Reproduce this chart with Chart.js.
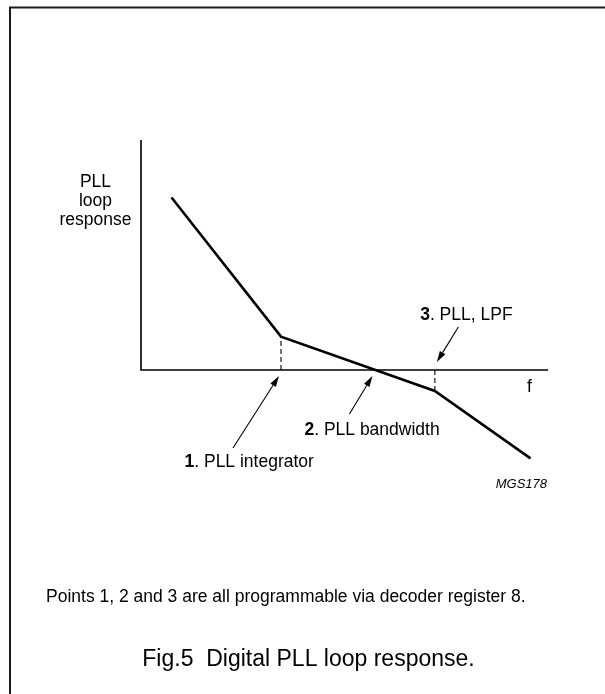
<!DOCTYPE html>
<html>
<head>
<meta charset="utf-8">
<script src="https://cdn.jsdelivr.net/npm/chart.js@4/dist/chart.umd.min.js"></script>
<style>
  html, body { margin: 0; padding: 0; background: #ffffff; }
  #wrap { position: relative; width: 605px; height: 694px; }
</style>
</head>
<body>
<div id="wrap"><canvas id="c" width="605" height="694"></canvas></div>
<script>
// ---- data (arbitrary units) ----
const frequency = [7.5, 34.4, 72.2, 95.7];      // breakpoints along f axis
const response  = [75.0, 14.5, -9.1, -38.4];    // PLL loop response at those points
const bandwidthCrossing = 57.6;                 // point 2: response crosses 0
const axisExtentX = 100;                        // f axis length
const axisExtentY = 100;                        // response axis height
const yLabelLines = ['PLL', 'loop', 'response'];
const pointLabels = [
  { num: '1', text: '. PLL integrator' },
  { num: '2', text: '. PLL bandwidth' },
  { num: '3', text: '. PLL, LPF' }
];
const xAxisLabel = 'f';
const figCode = 'MGS178';
const noteText = 'Points 1, 2 and 3 are all programmable via decoder register 8.';
const captionText = 'Fig.5  Digital PLL loop response.';

const FONT = '"Liberation Sans", Arial, Helvetica, sans-serif';

const points = frequency.map((f, i) => ({ x: f, y: response[i] }));

function arrow(ctx, x1, y1, x2, y2) {
  const ang = Math.atan2(y2 - y1, x2 - x1);
  const hl = 11, hw = 3.2;
  const bx = x2 - hl * Math.cos(ang), by = y2 - hl * Math.sin(ang);
  ctx.beginPath();
  ctx.moveTo(x1, y1);
  ctx.lineTo(bx, by);
  ctx.lineWidth = 1.1;
  ctx.strokeStyle = '#000';
  ctx.setLineDash([]);
  ctx.stroke();
  ctx.beginPath();
  ctx.moveTo(x2, y2);
  ctx.lineTo(bx + hw * Math.sin(ang), by - hw * Math.cos(ang));
  ctx.lineTo(bx - hw * Math.sin(ang), by + hw * Math.cos(ang));
  ctx.closePath();
  ctx.fillStyle = '#000';
  ctx.fill();
}

function boldNumLabel(ctx, x, y, num, text, size) {
  ctx.textAlign = 'left';
  ctx.textBaseline = 'alphabetic';
  ctx.font = 'bold ' + size + 'px ' + FONT;
  ctx.fillText(num, x, y);
  const w = ctx.measureText(num).width;
  ctx.font = size + 'px ' + FONT;
  ctx.fillText(text, x + w, y);
}

const decor = {
  id: 'decor',
  beforeDatasetsDraw(chart) {
    const ctx = chart.ctx;
    const xs = chart.scales.x, ys = chart.scales.y;
    ctx.save();
    // outer frame
    ctx.strokeStyle = '#1a1a1a';
    ctx.lineWidth = 2;
    ctx.beginPath();
    ctx.moveTo(10, 700);
    ctx.lineTo(10, 7.5);
    ctx.lineTo(610, 7.5);
    ctx.stroke();
    // axes
    const x0 = xs.getPixelForValue(0), y0 = ys.getPixelForValue(0);
    ctx.strokeStyle = '#000';
    ctx.lineWidth = 1.6;
    ctx.beginPath();
    ctx.moveTo(x0, ys.getPixelForValue(axisExtentY));
    ctx.lineTo(x0, y0);
    ctx.lineTo(xs.getPixelForValue(axisExtentX), y0);
    ctx.stroke();
    // dashed verticals at points 1 and 3
    ctx.lineWidth = 1.1;
    ctx.setLineDash([5, 3]);
    [1, 2].forEach(i => {
      const px = xs.getPixelForValue(frequency[i]);
      ctx.beginPath();
      ctx.moveTo(px, y0);
      ctx.lineTo(px, ys.getPixelForValue(response[i]));
      ctx.stroke();
    });
    ctx.restore();
  },
  afterDatasetsDraw(chart) {
    const ctx = chart.ctx;
    const xs = chart.scales.x, ys = chart.scales.y;
    const x0 = xs.getPixelForValue(0), y0 = ys.getPixelForValue(0);
    ctx.save();
    ctx.fillStyle = '#000';
    // arrows
    const p1 = xs.getPixelForValue(frequency[1]);
    const p2 = xs.getPixelForValue(bandwidthCrossing);
    const p3 = xs.getPixelForValue(frequency[2]);
    arrow(ctx, p1 - 48, y0 + 78, p1 - 2, y0 + 6);
    arrow(ctx, p2 - 26, y0 + 44, p2 - 3, y0 + 6);
    arrow(ctx, p3 + 23.5, y0 - 43, p3 + 2, y0 - 8);
    // y axis label
    ctx.font = '17.5px ' + FONT;
    ctx.textAlign = 'center';
    ctx.textBaseline = 'alphabetic';
    yLabelLines.forEach((t, i) => ctx.fillText(t, x0 - 45.5, 187 + i * 19));
    // point labels
    boldNumLabel(ctx, p1 - 96.5, y0 + 97, pointLabels[0].num, pointLabels[0].text, 17.5);
    boldNumLabel(ctx, p2 - 71, y0 + 65, pointLabels[1].num, pointLabels[1].text, 17.5);
    boldNumLabel(ctx, p3 - 14.7, y0 - 50, pointLabels[2].num, pointLabels[2].text, 17.5);
    // axis label f
    ctx.font = '17.5px ' + FONT;
    ctx.textAlign = 'left';
    ctx.fillText(xAxisLabel, xs.getPixelForValue(axisExtentX) - 21, y0 + 22);
    // figure code
    ctx.font = 'italic 13px ' + FONT;
    ctx.textAlign = 'right';
    ctx.fillText(figCode, xs.getPixelForValue(axisExtentX) - 1, 488);
    // note
    ctx.font = '17.5px ' + FONT;
    ctx.textAlign = 'left';
    ctx.fillText(noteText, 46, 602);
    // caption
    ctx.font = '23px ' + FONT;
    ctx.textAlign = 'center';
    ctx.fillText(captionText, 308.5, 666);
    ctx.restore();
  }
};

new Chart(document.getElementById('c'), {
  type: 'line',
  data: {
    datasets: [{
      data: points,
      borderColor: '#000',
      borderWidth: 2.6,
      pointRadius: 0,
      tension: 0,
      fill: false,
      clip: false
    }]
  },
  options: {
    responsive: false,
    devicePixelRatio: 1,
    animation: false,
    layout: { padding: { left: 141, right: 57, top: 140, bottom: 232 } },
    plugins: { legend: { display: false }, tooltip: { enabled: false }, title: { display: false } },
    events: [],
    scales: {
      x: { type: 'linear', min: 0, max: axisExtentX, display: false },
      y: { type: 'linear', min: -40, max: axisExtentY, display: false }
    }
  },
  plugins: [decor]
});
</script>
</body>
</html>
